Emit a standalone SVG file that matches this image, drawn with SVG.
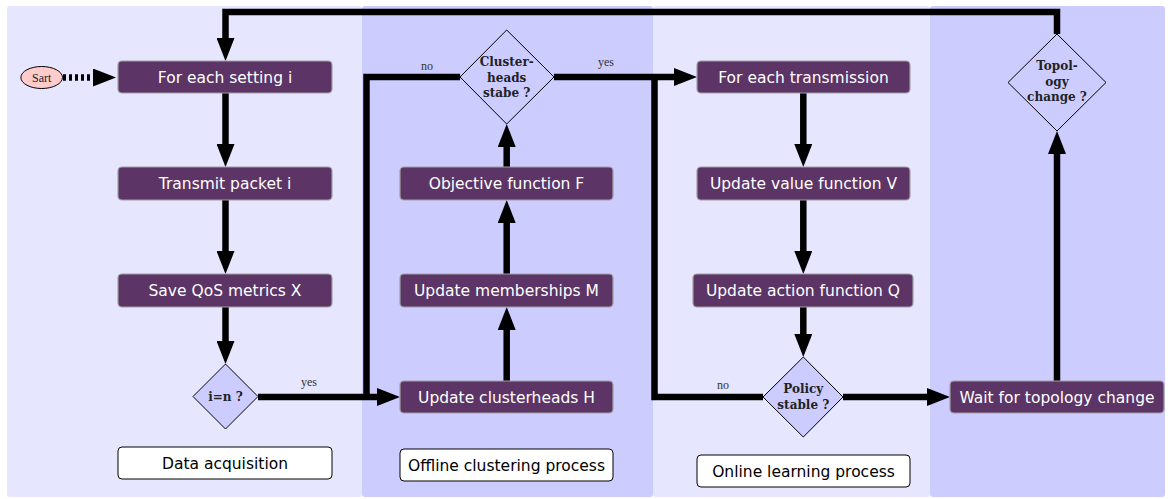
<svg xmlns="http://www.w3.org/2000/svg" width="1171" height="499" viewBox="0 0 1171 499">
<style>
.pl{fill:#e6e6ff}
.pd{fill:#ccccff}
.box{fill:#5c3566;stroke:#a0a0a0;stroke-width:1.2}
.lbl{fill:#ffffff;stroke:#000;stroke-width:1}
.bt{font-family:"DejaVu Sans",sans-serif;font-size:15.5px;fill:#ffffff;text-anchor:middle}
.lt{font-family:"DejaVu Sans",sans-serif;font-size:15.5px;fill:#000;text-anchor:middle}
.dia{fill:#ccccff;stroke:#000;stroke-width:1}
.dt{font-family:"DejaVu Serif",serif;font-weight:bold;font-size:12px;fill:#222;text-anchor:middle}
.yn{font-family:"Liberation Serif",serif;font-size:12px;fill:#333;text-anchor:middle}
.c{fill:none;stroke:#000;stroke-width:6.5;stroke-linejoin:miter}
</style>
<defs>
<marker id="ah" markerUnits="userSpaceOnUse" markerWidth="23" markerHeight="18" viewBox="0 0 23 18" refX="4" refY="9" orient="auto">
<path d="M0,0 L23,9 L0,18 z" fill="#000"/>
</marker>
</defs>
<g id="panels">
<rect class="pl" x="7" y="6" width="355" height="491" rx="3"/>
<rect class="pd" x="362" y="6" width="291" height="491" rx="3"/>
<rect class="pl" x="653" y="6" width="277" height="491" rx="3"/>
<rect class="pd" x="930" y="6" width="235" height="491" rx="3"/>
</g>
<g id="connectors">
<line class="c" x1="63" y1="77.5" x2="97" y2="77.5" stroke-dasharray="3 3" marker-end="url(#ah)"/>
<line class="c" x1="225.5" y1="93" x2="225.5" y2="148" marker-end="url(#ah)"/>
<line class="c" x1="225.5" y1="200" x2="225.5" y2="255" marker-end="url(#ah)"/>
<line class="c" x1="225.5" y1="307" x2="225.5" y2="345" marker-end="url(#ah)"/>
<line class="c" x1="258" y1="397" x2="381" y2="397" marker-end="url(#ah)"/>
<line class="c" x1="506.7" y1="381" x2="506.7" y2="326" marker-end="url(#ah)"/>
<line class="c" x1="506.7" y1="274" x2="506.7" y2="219" marker-end="url(#ah)"/>
<line class="c" x1="506.7" y1="167" x2="506.7" y2="143" marker-end="url(#ah)"/>
<polyline class="c" points="460,77 366.5,77 366.5,400"/>
<line class="c" x1="554" y1="77" x2="678" y2="77" marker-end="url(#ah)"/>
<line class="c" x1="803.3" y1="93" x2="803.3" y2="148" marker-end="url(#ah)"/>
<line class="c" x1="803.3" y1="200" x2="803.3" y2="255" marker-end="url(#ah)"/>
<line class="c" x1="803.3" y1="307" x2="803.3" y2="338" marker-end="url(#ah)"/>
<polyline class="c" points="763,397 654.5,397 654.5,74"/>
<line class="c" x1="843" y1="397" x2="931" y2="397" marker-end="url(#ah)"/>
<line class="c" x1="1057" y1="381" x2="1057" y2="150" marker-end="url(#ah)"/>
<polyline class="c" points="1057,34 1057,12 225.5,12 225.5,42" marker-end="url(#ah)"/>
<text class="yn" x="309" y="386">yes</text>
<text class="yn" x="427" y="70">no</text>
<text class="yn" x="606" y="66">yes</text>
<text class="yn" x="723" y="389">no</text>
</g>
<g id="start">
<ellipse cx="41.7" cy="77.5" rx="20.8" ry="11" fill="#ffcccc" stroke="#000" stroke-width="1"/>
<text x="41.7" y="81.5" font-family="Liberation Serif, serif" font-size="12" fill="#222" text-anchor="middle">Sart</text>
</g>
<g id="n-setting"><rect class="box" x="118" y="61" width="214" height="32" rx="4"/><text class="bt" x="225" y="82.5">For each setting i</text></g>
<g id="n-transmit"><rect class="box" x="118" y="167" width="214" height="33" rx="4"/><text class="bt" x="225" y="189">Transmit packet i</text></g>
<g id="n-save"><rect class="box" x="118" y="274" width="214" height="33" rx="4"/><text class="bt" x="225" y="296">Save QoS metrics X</text></g>
<g id="n-ineqn"><polygon class="dia" points="225.5,364 258,396.5 225.5,429 193,396.5"/><text class="dt" x="225.5" y="401">i=n ?</text></g>
<g id="l-data"><rect class="lbl" x="118" y="447" width="214" height="32" rx="4"/><text class="lt" x="225" y="468.5">Data acquisition</text></g>
<g id="n-uch"><rect class="box" x="400" y="381" width="213" height="32" rx="4"/><text class="bt" x="506.5" y="402.5">Update clusterheads H</text></g>
<g id="n-um"><rect class="box" x="400" y="274" width="213" height="33" rx="4"/><text class="bt" x="506.5" y="296">Update memberships M</text></g>
<g id="n-of"><rect class="box" x="400" y="167" width="213" height="33" rx="4"/><text class="bt" x="506.5" y="189">Objective function F</text></g>
<g id="n-chs"><polygon class="dia" points="506.7,30 554,77 506.7,124 460,77"/><text class="dt" x="506.7" y="66">Cluster-</text><text class="dt" x="506.7" y="81.5">heads</text><text class="dt" x="506.7" y="97">stabe ?</text></g>
<g id="l-offline"><rect class="lbl" x="400" y="449" width="213" height="32" rx="4"/><text class="lt" x="506.5" y="470.5">Offline clustering process</text></g>
<g id="n-fet"><rect class="box" x="697" y="61" width="213" height="32" rx="4"/><text class="bt" x="803.5" y="82.5">For each transmission</text></g>
<g id="n-uvf"><rect class="box" x="697" y="167" width="213" height="33" rx="4"/><text class="bt" x="803.5" y="189">Update value function V</text></g>
<g id="n-uaf"><rect class="box" x="693" y="274" width="220" height="33" rx="4"/><text class="bt" x="803" y="296">Update action function Q</text></g>
<g id="n-policy"><polygon class="dia" points="803.3,357 843,397 803.3,437 763,397"/><text class="dt" x="803.3" y="393">Policy</text><text class="dt" x="803.3" y="409">stable ?</text></g>
<g id="l-online"><rect class="lbl" x="697" y="455" width="213" height="32" rx="4"/><text class="lt" x="803.5" y="476.5">Online learning process</text></g>
<g id="n-wait"><rect class="box" x="950" y="381" width="214" height="32" rx="4"/><text class="bt" x="1057" y="402.5">Wait for topology change</text></g>
<g id="n-topo"><polygon class="dia" points="1057,34 1106,82.5 1057,131 1008,82.5"/><text class="dt" x="1057" y="70">Topol-</text><text class="dt" x="1057" y="85.5">ogy</text><text class="dt" x="1057" y="101">change ?</text></g>
</svg>
